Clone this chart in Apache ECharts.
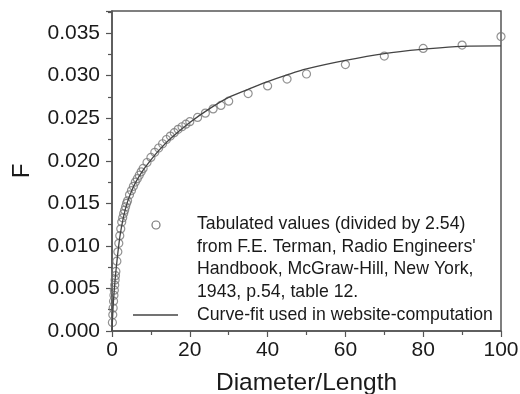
<!DOCTYPE html>
<html>
<head>
<meta charset="utf-8">
<script src="https://cdn.jsdelivr.net/npm/echarts@6/dist/echarts.min.js"></script>
<style>
  html, body { margin: 0; padding: 0; background: #fff; }
  #chart { width: 520px; height: 394px; }
</style>
</head>
<body>
<div id="chart"></div>
<script>
// tabulated values (Terman, divided by 2.54)
var tabX = [0.1, 0.2, 0.3, 0.4, 0.5, 0.6, 0.7, 0.8, 0.9, 1.0, 1.25, 1.5, 1.75, 2.0, 2.25, 2.5, 2.75, 3.0, 3.25, 3.5,
  3.75, 4.0, 4.5, 5.0, 5.5, 6, 6.5, 7, 7.5, 8, 9, 10, 11, 12, 13, 14, 15, 16, 17, 18, 19, 20,
  22, 24, 26, 28, 30, 35, 40, 45, 50, 60, 70, 80, 90, 100];
var tabF = [0.0010, 0.0019, 0.0027, 0.0035, 0.0042, 0.0048, 0.0054, 0.0060, 0.0065, 0.0070, 0.0082, 0.0093,
  0.0103, 0.0112, 0.0120, 0.0128, 0.0133, 0.0138, 0.0142, 0.0146, 0.0150, 0.0153, 0.0160, 0.0165, 0.0170,
  0.0175, 0.0179, 0.0183, 0.0187, 0.0191, 0.0198, 0.0204, 0.0210, 0.0215, 0.0220, 0.0225, 0.0229, 0.0233,
  0.0237, 0.0240, 0.0243, 0.0246, 0.0251, 0.0256, 0.0261, 0.0265, 0.0270, 0.0279, 0.0288, 0.0296, 0.0302,
  0.0313, 0.0323, 0.0332, 0.0336, 0.0346];

// curve fit
var fitX = [0, 0.25, 0.5, 1, 2, 3, 4, 5, 6, 8, 10, 12, 15, 20, 25, 30, 35, 40, 45, 50, 60, 70, 80, 90, 100];
var fitF = [0, 0.0025, 0.0043, 0.0070, 0.0110, 0.0135, 0.0152, 0.0164, 0.0174, 0.0189, 0.0201, 0.0212,
  0.0226, 0.0245, 0.0261, 0.02745, 0.0284, 0.0293, 0.0301, 0.0308, 0.0318, 0.0326, 0.0331, 0.03345, 0.0335];

var xTicks = [0, 20, 40, 60, 80, 100];

var tabulated = tabX.map(function (x, i) { return [x, tabF[i]]; });
var fitted = fitX.map(function (x, i) { return [x, fitF[i]]; });

var FONT = '"Liberation Sans", Arial, sans-serif';
var AXIS = '#555';
var TXT = '#1a1a1a';

var chart = echarts.init(document.getElementById('chart'), null, { renderer: 'canvas' });
chart.setOption({
  animation: false,
  backgroundColor: '#fff',
  textStyle: { fontFamily: FONT },
  grid: {
    left: 112, right: 19, top: 11, bottom: 63, containLabel: false, outerBoundsMode: 'none',
    show: true, borderColor: AXIS, borderWidth: 1.5
  },
  xAxis: {
    type: 'value', min: xTicks[0], max: xTicks[xTicks.length - 1], interval: 20,
    name: 'Diameter/Length', nameLocation: 'middle', nameGap: 40,
    nameTextStyle: { fontSize: 24.5, color: TXT, fontFamily: FONT },
    axisLine: { lineStyle: { color: AXIS, width: 1.5 } },
    axisTick: { inside: false, length: 6, lineStyle: { color: AXIS, width: 1.2 } },
    minorTick: { show: true, splitNumber: 2, length: 4, lineStyle: { color: AXIS, width: 1.2 } },
    axisLabel: { fontSize: 21, color: TXT, margin: 9, fontFamily: FONT },
    splitLine: { show: false }
  },
  yAxis: {
    type: 'value', min: 0, max: 0.0376, interval: 0.005,
    name: 'F', nameLocation: 'middle', nameGap: 78, nameRotate: 90,
    nameTextStyle: { fontSize: 24, color: TXT, fontFamily: FONT },
    axisLine: { lineStyle: { color: AXIS, width: 1.5 } },
    axisTick: { inside: false, length: 6, lineStyle: { color: AXIS, width: 1.2 } },
    minorTick: { show: true, splitNumber: 2, length: 4, lineStyle: { color: AXIS, width: 1.2 } },
    axisLabel: {
      fontSize: 21, color: TXT, margin: 12, fontFamily: FONT, showMaxLabel: false,
      formatter: function (v) { return v.toFixed(3); }
    },
    splitLine: { show: false }
  },
  series: [
    {
      name: 'Tabulated', type: 'scatter', data: tabulated,
      symbol: 'circle', symbolSize: 8,
      itemStyle: { color: 'rgba(255,255,255,0)', borderColor: '#777', borderWidth: 1.2 }
    },
    {
      name: 'Curve-fit', type: 'line', data: fitted, smooth: 0.35, showSymbol: false,
      lineStyle: { color: '#444', width: 1.3 }
    }
  ],
  graphic: [
    { type: 'circle', shape: { cx: 156, cy: 225, r: 4 }, style: { fill: 'none', stroke: '#777', lineWidth: 1.2 } },
    {
      type: 'text', left: 197, top: 213,
      style: {
        text: 'Tabulated values (divided by 2.54)\nfrom F.E. Terman, Radio Engineers\'\nHandbook, McGraw-Hill, New York,\n1943, p.54, table 12.',
        font: '17.7px ' + FONT, fill: TXT, lineHeight: 22.5
      }
    },
    { type: 'line', shape: { x1: 133, y1: 315, x2: 178, y2: 315 }, style: { stroke: '#444', lineWidth: 1.3 } },
    {
      type: 'text', left: 197, top: 303.5,
      style: { text: 'Curve-fit used in website-computation', font: '17.7px ' + FONT, fill: TXT, lineHeight: 22.5 }
    }
  ]
});
</script>
</body>
</html>
